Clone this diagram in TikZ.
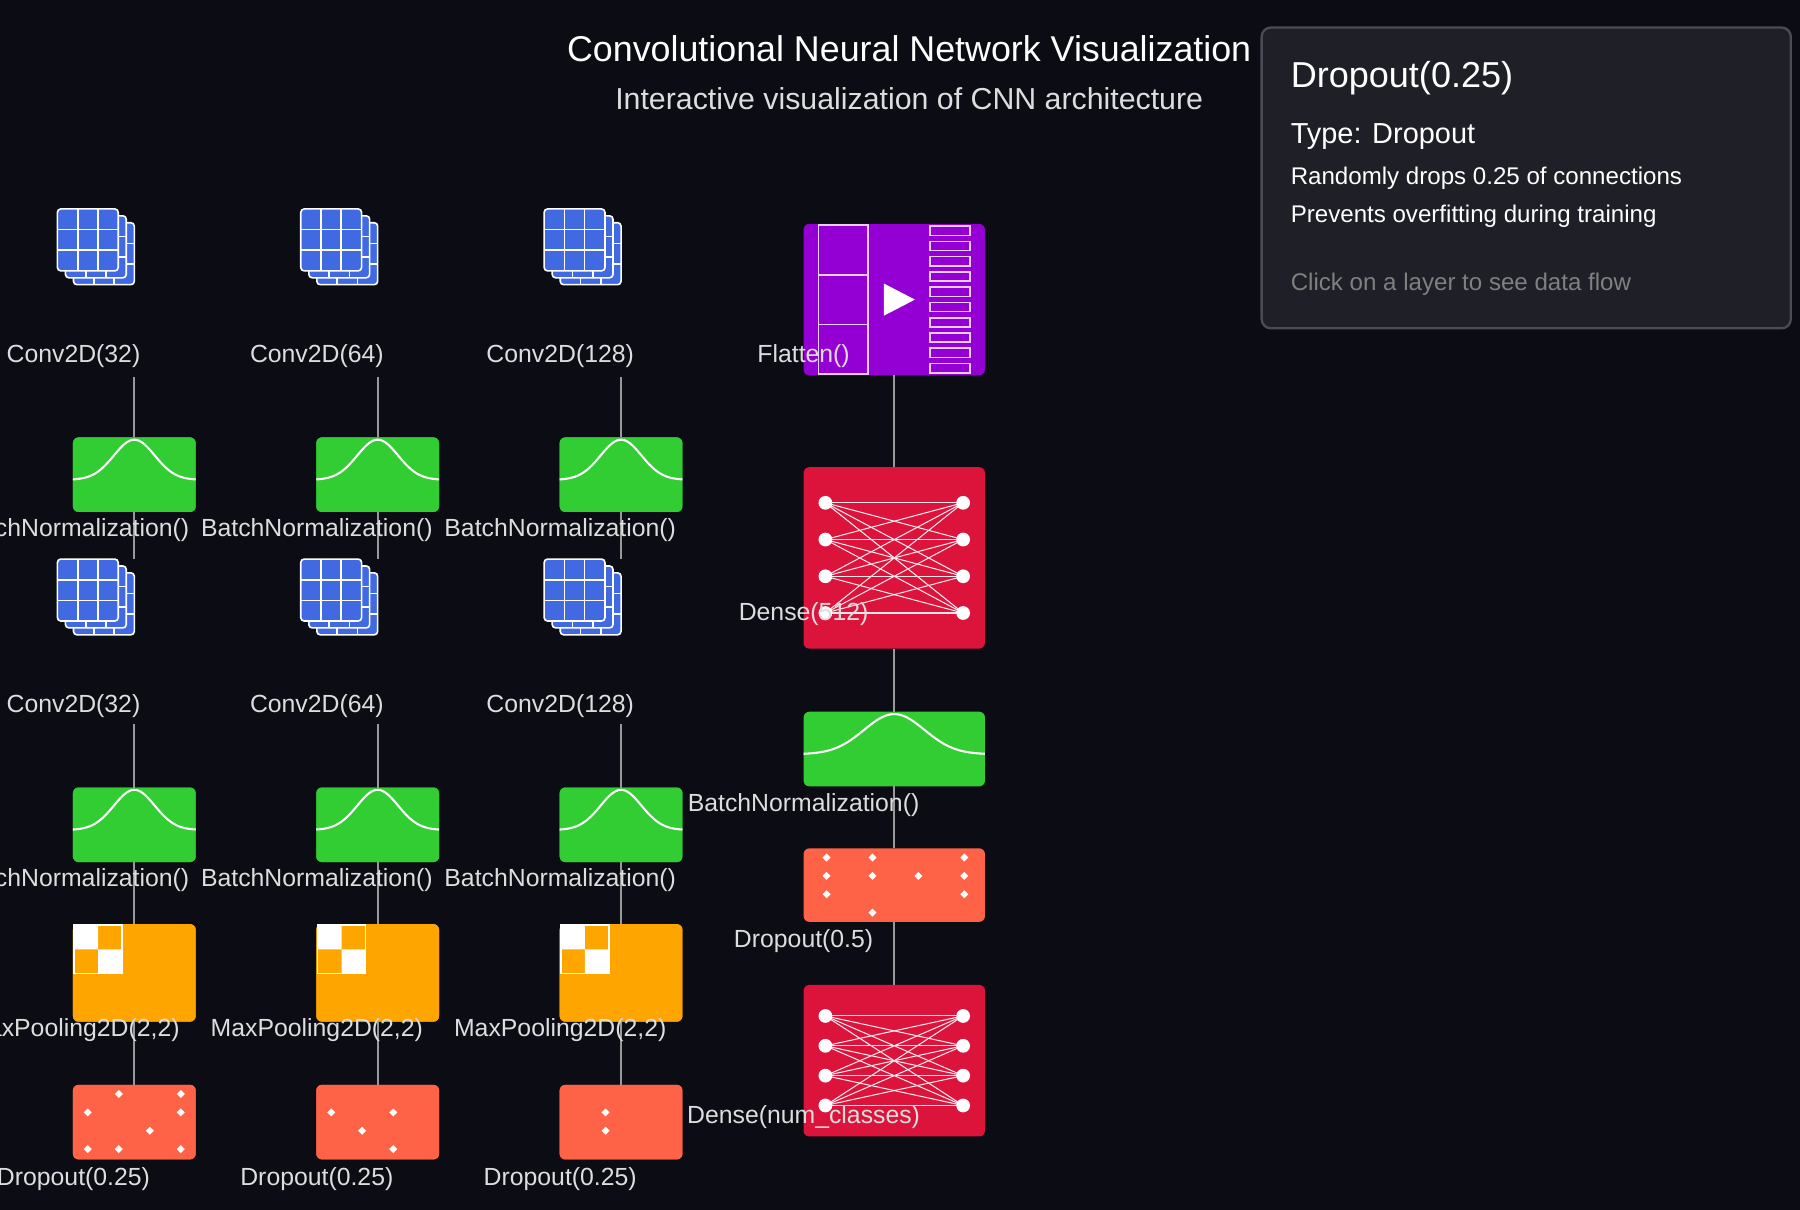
\documentclass[tikz,border=0pt]{standalone}
\usepackage{fontspec}
\setmainfont{Liberation Sans}
\usetikzlibrary{positioning,calc}
\definecolor{bgc}{HTML}{0B0C14}
\definecolor{convblue}{HTML}{4169E1}
\definecolor{bngreen}{HTML}{32CD32}
\definecolor{poolorange}{HTML}{FFA500}
\definecolor{droptomato}{HTML}{FF6347}
\definecolor{densered}{HTML}{DC143C}
\definecolor{flatviolet}{HTML}{9400D3}
\definecolor{tipbg}{HTML}{1E1F27}
\definecolor{tipline}{HTML}{4A4B55}
\definecolor{lbl}{HTML}{DDDDDD}

% one sheet of the conv icon, left/top corner
\newcommand{\cnnsheet}[2]{%
  \fill[convblue,rounded corners=1.5pt] (#1,#2) rectangle ++(53,54);
  \draw[white,line width=0.7pt,rounded corners=1.5pt] (#1,#2) rectangle ++(53,54);
  \draw[white,line width=0.7pt] (#1+17.7,#2) -- ++(0,54) (#1+35.3,#2) -- ++(0,54)
    (#1,#2+18) -- ++(53,0) (#1,#2+36) -- ++(53,0);}
\newcommand{\cnnicon}[2]{\cnnsheet{#1+14}{#2+12}\cnnsheet{#1+7}{#2+6}\cnnsheet{#1}{#2}}
% bell curve in a batchnorm box
\newcommand{\bellcurve}[2]{\begin{scope}[shift={(#1.center)}]
  \draw[white,line width=0.9pt] plot[domain=-#2:#2,samples=50] (\x,{4.5-35*exp(-(\x/(#2*0.47))^2)});
  \end{scope}}
% all-to-all net in a dense box
\newcommand{\densenet}[2]{\begin{scope}[shift={(#1.center)}]
  \foreach \a in {-3,-1,1,3} \foreach \b in {-3,-1,1,3}
    \draw[white!90!densered,line width=0.45pt] (-60,\a*#2) -- (60,\b*#2);
  \foreach \a in {-3,-1,1,3} {\fill[white] (-60,\a*#2) circle (3pt); \fill[white] (60,\a*#2) circle (3pt);}
  \end{scope}}
\newcommand{\dropdot}[2]{\fill[white] (#1,#2) +(0,-3.5) -- +(3.5,0) -- +(0,3.5) -- +(-3.5,0) -- cycle;}

\tikzset{
  box/.style={rounded corners=2.5pt,inner sep=0pt,outer sep=0pt},
  bn/.style={box,fill=bngreen,minimum width=53.5pt,minimum height=32.5pt},
  pool/.style={box,fill=poolorange,minimum width=53.5pt,minimum height=42.5pt},
  drop/.style={box,fill=droptomato,minimum width=53.5pt,minimum height=32.5pt},
  wide/.style={box,minimum width=79pt},
  conv/.style={inner sep=0pt,minimum width=2pt},
  label/.style={text=lbl,font=\fontsize{10.8}{13}\selectfont,inner sep=0pt},
  wire/.style={draw=gray!80,line width=0.8pt},
  tiptext/.style={anchor=west,inner sep=0pt,text=white}
}

\begin{document}
\begin{tikzpicture}[x=0.5pt,y=-0.5pt]
\fill[bgc] (0,0) rectangle (1568,1054);
\useasboundingbox (0,0) rectangle (1568,1054);

\node[text=white,font=\fontsize{15.6}{18}\selectfont] (title) at (792,42) {Convolutional Neural Network Visualization};
\node[text=lbl,font=\fontsize{13.2}{15}\selectfont] (subtitle) at (792,86) {Interactive visualization of CNN architecture};

% conv blocks, three columns
\foreach \c/\x/\dropA in {1/117/{1/0,3/0,0/1,3/1,2/2,0/3,1/3,3/3},2/329/{0/1,2/1,1/2,2/3},3/541/{1/1,1/2}} {
  \node[conv,minimum height=73pt] (cvA\c) at (\x,255) {};
  \node[bn] (bnA\c) at (\x,413.5) {};
  \node[conv,minimum height=71.5pt] (cvB\c) at (\x,558.5) {};
  \node[bn] (bnB\c) at (\x,718.5) {};
  \node[pool] (mp\c) at (\x,847.5) {};
  \node[drop] (do\c) at (\x,977.5) {};
  \path[wire] (cvA\c.south) -- (bnA\c.north) (bnA\c.south) -- (cvB\c.north)
    (cvB\c.south) -- (bnB\c.north) (bnB\c.south) -- (mp\c.north) (mp\c.south) -- (do\c.north);
  \node[bn] at (bnA\c) {}; \node[bn] at (bnB\c) {};
  \node[pool] at (mp\c) {}; \node[drop] at (do\c) {};
  \cnnicon{\x-67}{182}
  \cnnicon{\x-67}{487}
  \bellcurve{bnA\c}{53.5}
  \bellcurve{bnB\c}{53.5}
  \begin{scope}[shift={(mp\c.north west)}]
    \fill[white] (1,1) rectangle (22,22) (22,22) rectangle (43,43);
    \draw[white,line width=0.7pt] (1,1) rectangle (43,43);
  \end{scope}
  \begin{scope}[shift={(do\c.center)}]
    \foreach \i/\j in \dropA {\dropdot{-40.5+27*\i}{-24.5+16*\j}}
  \end{scope}
  \node[label] (lcvA\c) at (\x-53,310) {Conv2D(\ifcase\c\or32\or64\or128\fi)};
  \node[label] (lbnA\c) at (\x-53,462) {BatchNormalization()};
  \node[label] (lcvB\c) at (\x-53,615) {Conv2D(\ifcase\c\or32\or64\or128\fi)};
  \node[label] (lbnB\c) at (\x-53,767) {BatchNormalization()};
  \node[label] (lmp\c) at (\x-53,897) {MaxPooling2D(2,2)};
  \node[label] (ldo\c) at (\x-53,1027) {Dropout(0.25)};
}

% dense head
\node[wide,fill=flatviolet,minimum height=66pt] (fl) at (779,261) {};
\node[wide,fill=densered,minimum height=79pt] (dnA) at (779,486) {};
\node[wide,fill=bngreen,minimum height=32.5pt] (bnC) at (779,652.5) {};
\node[wide,fill=droptomato,minimum height=32pt] (doC) at (779,771) {};
\node[wide,fill=densered,minimum height=66pt] (dnB) at (779,924) {};
\path[wire] (fl.south) -- (dnA.north) (dnA.south) -- (bnC.north) (bnC.south) -- (doC.north) (doC.south) -- (dnB.north);

\begin{scope}[shift={(fl.center)}]
  \foreach \k in {0,1,2} \draw[white!80!flatviolet,line width=0.7pt] (-66,-65+43.3*\k) rectangle ++(43,43.3);
  \fill[white] (-9,-14) -- (18,0) -- (-9,14) -- cycle;
  \foreach \k in {0,...,9} \draw[white!80!flatviolet,line width=0.7pt] (31,-64+13.3*\k) rectangle ++(35,8);
\end{scope}
\densenet{dnA}{16}
\bellcurve{bnC}{79}
\begin{scope}[shift={(doC.center)}]
  \foreach \i/\j in {0/0,1/0,3/0,0/1,1/1,2/1,3/1,0/2,3/2,1/3} {\dropdot{-59+40*\i}{-24+16*\j}}
\end{scope}
\densenet{dnB}{13}

\node[label] (lfl) at (700,310) {Flatten()};
\node[label] (ldnA) at (700,535) {Dense(512)};
\node[label] (lbnC) at (700,701) {BatchNormalization()};
\node[label] (ldoC) at (700,820) {Dropout(0.5)};
\node[label] (ldnB) at (700,973) {Dense(num\_classes)};

% info panel
\node[draw=tipline,fill=tipbg,line width=1pt,rounded corners=4pt,minimum width=230.5pt,minimum height=131pt] (tip) at (1329.5,155) {};
\node[tiptext,font=\fontsize{15.7}{18}\selectfont] (tipA) at (1124,68) {Dropout(0.25)};
\node[tiptext,font=\fontsize{12.6}{14}\selectfont] (tipB) at (1124,119) {Type: Dropout};
\node[tiptext,font=\fontsize{10.5}{12}\selectfont] (tipC) at (1124,155) {Randomly drops 0.25 of connections};
\node[tiptext,font=\fontsize{10.5}{12}\selectfont] (tipD) at (1124,188) {Prevents overfitting during training};
\node[tiptext,font=\fontsize{10.5}{12}\selectfont,text=gray] (tipE) at (1124,248) {Click on a layer to see data flow};
\end{tikzpicture}
\end{document}
